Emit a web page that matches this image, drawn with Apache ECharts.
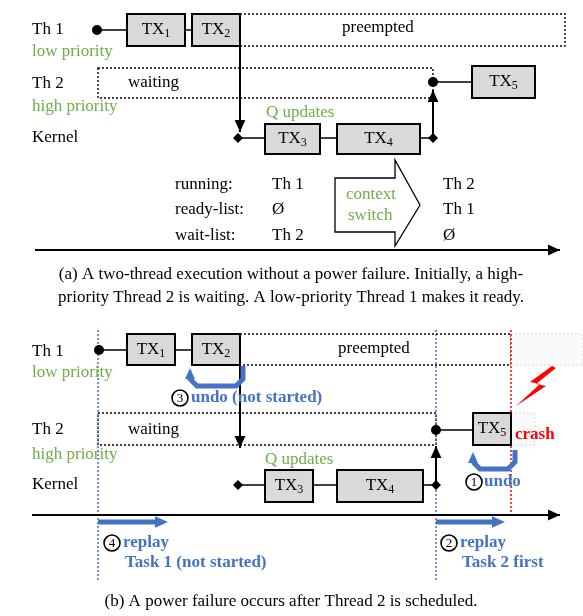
<!DOCTYPE html>
<html><head><meta charset="utf-8">
<script src="https://cdn.jsdelivr.net/npm/echarts@6/dist/echarts.min.js"></script>
<style>html,body{margin:0;padding:0;background:#fff}#c{width:583px;height:616px}</style>
</head><body><div id="c"></div>
<script>
// boxes: x1,y1,x2,y2,name,sub
var boxes = [
  [127,14,185,46,'TX','1'],[192,14,240,46,'TX','2'],[472,66,535,98,'TX','5'],
  [265,124,320,154,'TX','3'],[337,124,420,154,'TX','4'],
  [127,334,175,365,'TX','1'],[192,334,240,365,'TX','2'],
  [265,470,313,502,'TX','3'],[337,470,423,502,'TX','4'],
  [473,413,511,445,'TX','5']
];
// dotted rectangles x1,y1,x2,y2
var dottedRects = [[240,14,565,46],[98,68,433,98],[240,334,511,365],[98,413,436,445]];
var faintRects = [[511,334,583,365],[511,413,535,445]];
// plain lines
var lines = [
  [97,30,127,30],[185,30,192,30],[433,82,472,82],[238,138,265,138],[320,138,337,138],[420,138,433,138],
  [99,350,127,350],[175,350,192,350],[436,430,473,430],[238,485,265,485],[313,485,337,485],[423,485,436,485]
];
// arrows x1,y1,x2,y2 (head at end)
var arrows = [
  [240,46,240,132],[433,138,433,90],[35,250,560,250],
  [240,365,240,448],[436,485,436,446],[32,515,560,515]
];
var dots = [[97,30],[433,82],[99,350],[436,430]];
var diamonds = [[238,138],[433,138],[238,485],[436,485]];
var vDotted = [[98,330,98,580,'#4472c4'],[436,330,436,580,'#4472c4'],[511,330,511,515,'#ff0000']];
// blue U-shaped undo arrows: xRight,yTop,xLeft,yBottom
var undoU = [[243,366,190,386],[515,450,473,469]];
var replayArrows = [[98,522,168,522],[436,522,505,522]];
var circledNums = [[180,398,'3'],[474,482,'1'],[112,543,'4'],[449,543,'2']];
// texts x,y,text,kind
var texts = [
  [32,30,'Th 1','k'],[32,52,'low priority','g'],[32,84,'Th 2','k'],[32,107,'high priority','g'],[32,138,'Kernel','k'],
  [342,28,'preempted','k'],[128,83,'waiting','k'],[266,113,'Q updates','g'],
  [175,185,'running:','k'],[175,210,'ready-list:','k'],[175,236,'wait-list:','k'],
  [272,185,'Th 1','k'],[272,210,'Ø','k'],[272,236,'Th 2','k'],
  [443,185,'Th 2','k'],[443,210,'Th 1','k'],[443,236,'Ø','k'],
  [346,195,'context','g'],[348,216,'switch','g'],
  [32,352,'Th 1','k'],[32,373,'low priority','g'],[32,430,'Th 2','k'],[32,455,'high priority','g'],[32,485,'Kernel','k'],
  [338,349,'preempted','k'],[128,430,'waiting','k'],[265,460,'Q updates','g'],
  [191,398,'undo (not started)','b'],[484,482,'undo','b'],
  [123,543,'replay','b'],[125,563,'Task 1 (not started)','b'],
  [460,543,'replay','b'],[462,563,'Task 2 first','b'],
  [515,435,'crash','r']
];
var captions = [
  [291,275,'(a) A two-thread execution without a power failure. Initially, a high-'],
  [291,298,'priority Thread 2 is waiting. A low-priority Thread 1 makes it ready.'],
  [291,602,'(b) A power failure occurs after Thread 2 is scheduled.']
];
var switchArrow = [[335,178],[395,178],[395,160],[420,205],[395,246],[395,232],[335,232]];
var bolt = [[552,366],[530,382],[540,384],[516,406],[546,386],[536,384],[556,368]];

var FONT = 'Liberation Serif';
var colors = {k:'#000',g:'#70ad47',b:'#4472c4',r:'#ff0000'};

function series(data, render){
  return {type:'custom', coordinateSystem:'cartesian2d', silent:true, animation:false,
    data:data.map(function(d,i){return [i];}),
    renderItem:function(params, api){ return render(data[params.dataIndex], api.coord.bind(api)); }};
}
function head(c, p1, p2, size){
  var a = Math.atan2(p2[1]-p1[1], p2[0]-p1[0]), w = size*0.45;
  return {type:'polygon', shape:{points:[p2,
    [p2[0]-size*Math.cos(a)+w*Math.sin(a), p2[1]-size*Math.sin(a)-w*Math.cos(a)],
    [p2[0]-size*Math.cos(a)-w*Math.sin(a), p2[1]-size*Math.sin(a)+w*Math.cos(a)]]}, style:{fill:c}};
}

var option = {
  animation:false,
  grid:{left:0,right:0,top:0,bottom:0},
  xAxis:{type:'value',min:0,max:583,show:false},
  yAxis:{type:'value',min:0,max:616,inverse:true,show:false},
  series:[
    series(dottedRects, function(d,c){var a=c([d[0],d[1]]),b=c([d[2],d[3]]);
      return {type:'rect',shape:{x:a[0],y:a[1],width:b[0]-a[0],height:b[1]-a[1]},style:{fill:'none',stroke:'#000',lineWidth:1.4,lineDash:[2,2]}};}),
    series(faintRects, function(d,c){var a=c([d[0],d[1]]),b=c([d[2],d[3]]);
      return {type:'rect',shape:{x:a[0],y:a[1],width:b[0]-a[0],height:b[1]-a[1]},style:{fill:'#fafafa',stroke:'#e4e4e4',lineWidth:1.3,lineDash:[2,2]}};}),
    series(lines, function(d,c){var a=c([d[0],d[1]]),b=c([d[2],d[3]]);
      return {type:'line',shape:{x1:a[0],y1:a[1],x2:b[0],y2:b[1]},style:{stroke:'#000',lineWidth:1.5}};}),
    series(vDotted, function(d,c){var a=c([d[0],d[1]]),b=c([d[2],d[3]]);
      return {type:'line',shape:{x1:a[0],y1:a[1],x2:b[0],y2:b[1]},style:{stroke:d[4],lineWidth:1.5,lineDash:[2,2]}};}),
    series(boxes, function(d,c){var a=c([d[0],d[1]]),b=c([d[2],d[3]]);
      return {type:'rect',shape:{x:a[0],y:a[1],width:b[0]-a[0],height:b[1]-a[1]},
        style:{fill:'#d9d9d9',stroke:'#000',lineWidth:2},
        textContent:{style:{text:'{m|'+d[4]+'}{s|'+d[5]+'}',rich:{m:{fontFamily:FONT,fontSize:17,fill:'#000'},s:{fontFamily:FONT,fontSize:12,fill:'#000',padding:[8,0,0,0]}}}},
        textConfig:{position:'inside'}};}),
    series(arrows, function(d,c){var a=c([d[0],d[1]]),b=c([d[2],d[3]]);
      return {type:'group',children:[{type:'line',shape:{x1:a[0],y1:a[1],x2:b[0],y2:b[1]},style:{stroke:'#000',lineWidth:2}},head('#000',a,b,12)]};}),
    series(dots, function(d,c){var a=c(d);return {type:'circle',shape:{cx:a[0],cy:a[1],r:5},style:{fill:'#000'}};}),
    series(diamonds, function(d,c){var a=c(d);
      return {type:'polygon',shape:{points:[[a[0]-5,a[1]],[a[0],a[1]-5],[a[0]+5,a[1]],[a[0],a[1]+5]]},style:{fill:'#000'}};}),
    series(undoU, function(d,c){var t=c([d[0],d[1]]),bt=c([d[0],d[3]]),l=c([d[2],d[3]]),e=c([d[2],d[1]+4]);var r=7;
      return {type:'group',children:[
        {type:'polyline',shape:{points:[t,[bt[0],bt[1]-r],[bt[0]-r,bt[1]],[l[0]+r,l[1]],[l[0],l[1]-r],[e[0],e[1]+8]]},style:{stroke:'#4472c4',lineWidth:5,fill:'none'}},
        head('#4472c4',[e[0],e[1]+12],[e[0],e[1]-2],11)]};}),
    series(replayArrows, function(d,c){var a=c([d[0],d[1]]),b=c([d[2],d[3]]);
      return {type:'group',children:[{type:'line',shape:{x1:a[0],y1:a[1],x2:b[0]-8,y2:b[1]},style:{stroke:'#4472c4',lineWidth:5}},head('#4472c4',a,b,13)]};}),
    series([switchArrow], function(d,c){return {type:'polygon',shape:{points:d.map(c)},style:{fill:'#fff',stroke:'#000',lineWidth:1.3}};}),
    series([bolt], function(d,c){return {type:'polygon',shape:{points:d.map(c)},style:{fill:'#ff0000'}};}),
    series(circledNums, function(d,c){var a=c([d[0],d[1]]);
      return {type:'group',children:[{type:'circle',shape:{cx:a[0],cy:a[1],r:8},style:{fill:'#fff',stroke:'#000',lineWidth:1.6}},
        {type:'text',style:{x:a[0],y:a[1]+1,text:d[2],align:'center',verticalAlign:'middle',fontFamily:FONT,fontSize:13,fill:'#000'}}]};}),
    series(texts, function(d,c){var a=c([d[0],d[1]]);var bold=d[3]==='b'||d[3]==='r';
      return {type:'text',style:{x:a[0],y:a[1],text:d[2],verticalAlign:'middle',fontFamily:FONT,fontSize:17,fontWeight:bold?'bold':'normal',fill:colors[d[3]]}};}),
    series(captions, function(d,c){var a=c([d[0],d[1]]);
      return {type:'text',style:{x:a[0],y:a[1],text:d[2],align:'center',verticalAlign:'middle',fontFamily:FONT,fontSize:17,fill:'#000'}};})
  ]
};
var chart = echarts.init(document.getElementById('c'));
chart.setOption(option);
</script>
</body></html>
